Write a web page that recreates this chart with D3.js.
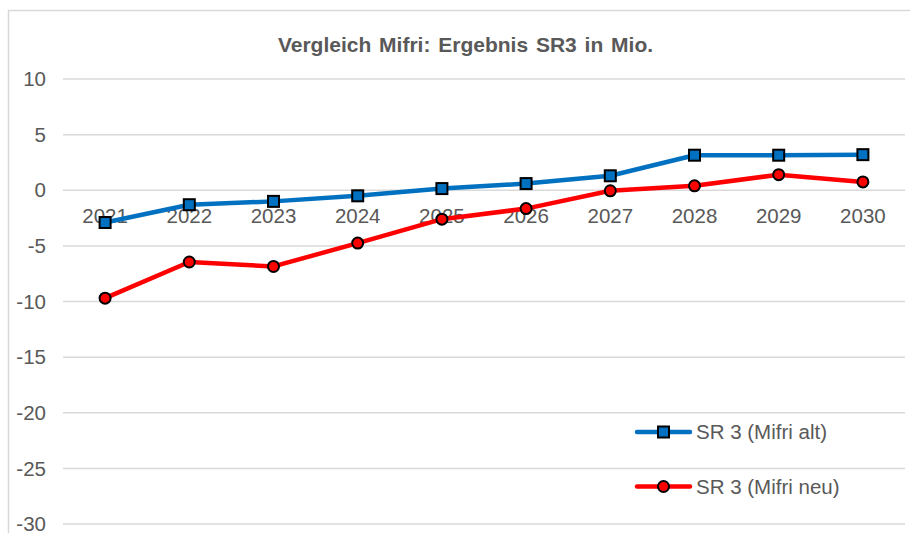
<!DOCTYPE html>
<html>
<head>
<meta charset="utf-8">
<script src="https://cdn.jsdelivr.net/npm/d3@7"></script>
<style>
  body { margin: 0; background: #fff; }
  svg { display: block; font-family: "Liberation Sans", Arial, sans-serif; }
</style>
</head>
<body>
<script>
// Datos del gráfico
const jahre = ["2021", "2022", "2023", "2024", "2025", "2026", "2027", "2028", "2029", "2030"];
const mifriAlt = [-2.9, -1.3, -1.0, -0.5, 0.15, 0.6, 1.3, 3.15, 3.15, 3.2];
const mifriNeu = [-9.7, -6.45, -6.85, -4.75, -2.6, -1.65, -0.05, 0.4, 1.4, 0.75];
const yTicks = [10, 5, 0, -5, -10, -15, -20, -25, -30];
const serien = [
  { name: "SR 3 (Mifri alt)", werte: mifriAlt, farbe: "#0070C0", marker: "square" },
  { name: "SR 3 (Mifri neu)", werte: mifriNeu, farbe: "#FF0000", marker: "circle" }
];

const width = 910;
const height = 533;
const textFarbe = "#595959";

const svg = d3.select("body").append("svg")
  .attr("width", width)
  .attr("height", height);

// Rahmen des Diagrammbereichs
svg.append("path")
  .attr("d", `M8.5,${height}V10.5H${width}`)
  .attr("fill", "none")
  .attr("stroke", "#d9d9d9")
  .attr("stroke-width", 1.5);

// Titel
svg.append("text")
  .attr("x", 465.5)
  .attr("y", 51.5)
  .attr("text-anchor", "middle")
  .attr("font-size", "21px")
  .attr("font-weight", "bold")
  .attr("word-spacing", "2px")
  .attr("fill", textFarbe)
  .text("Vergleich Mifri: Ergebnis SR3 in Mio.");

// Skalen
const x = d3.scaleBand().domain(jahre).range([63, 905]);
const y = d3.scaleLinear().domain([-30, 10]).range([524, 79]);

// Gitterlinien
svg.append("g")
  .selectAll("line")
  .data(yTicks)
  .join("line")
  .attr("x1", 63)
  .attr("x2", 905)
  .attr("y1", d => y(d))
  .attr("y2", d => y(d))
  .attr("stroke", "#d9d9d9")
  .attr("stroke-width", 1.5);

// Y-Achse Beschriftung
svg.append("g")
  .selectAll("text")
  .data(yTicks)
  .join("text")
  .attr("x", 46)
  .attr("y", d => y(d))
  .attr("dy", "0.35em")
  .attr("text-anchor", "end")
  .attr("font-size", "20.5px")
  .attr("fill", textFarbe)
  .text(d => d);

// X-Achse Beschriftung (unter der Nulllinie)
svg.append("g")
  .selectAll("text")
  .data(jahre)
  .join("text")
  .attr("x", d => x(d) + x.bandwidth() / 2)
  .attr("y", y(0) + 33)
  .attr("text-anchor", "middle")
  .attr("font-size", "20.5px")
  .attr("fill", textFarbe)
  .text(d => d);

const linie = d3.line()
  .x((d, i) => x(jahre[i]) + x.bandwidth() / 2)
  .y(d => y(d));

function zeichneMarker(g, typ, farbe, cx, cy) {
  if (typ === "square") {
    g.append("rect")
      .attr("x", cx - 5.5)
      .attr("y", cy - 5.5)
      .attr("width", 11)
      .attr("height", 11)
      .attr("fill", farbe)
      .attr("stroke", "#000")
      .attr("stroke-width", 2);
  } else {
    g.append("circle")
      .attr("cx", cx)
      .attr("cy", cy)
      .attr("r", 5.5)
      .attr("fill", farbe)
      .attr("stroke", "#000")
      .attr("stroke-width", 2);
  }
}

// Serien
serien.forEach(s => {
  const g = svg.append("g");
  g.append("path")
    .attr("d", linie(s.werte))
    .attr("fill", "none")
    .attr("stroke", s.farbe)
    .attr("stroke-width", 4.5)
    .attr("stroke-linejoin", "round");
  s.werte.forEach((v, i) => {
    zeichneMarker(g, s.marker, s.farbe, x(jahre[i]) + x.bandwidth() / 2, y(v));
  });
});

// Legende
const legende = svg.append("g");
serien.forEach((s, i) => {
  const ly = 432 + i * 54.5;
  legende.append("line")
    .attr("x1", 637)
    .attr("x2", 690)
    .attr("y1", ly)
    .attr("y2", ly)
    .attr("stroke", s.farbe)
    .attr("stroke-width", 4.5)
    .attr("stroke-linecap", "round");
  zeichneMarker(legende, s.marker, s.farbe, 663.5, ly);
  legende.append("text")
    .attr("x", 696)
    .attr("y", ly)
    .attr("dy", "0.35em")
    .attr("font-size", "20.5px")
    .attr("fill", textFarbe)
    .text(s.name);
});
</script>
</body>
</html>
